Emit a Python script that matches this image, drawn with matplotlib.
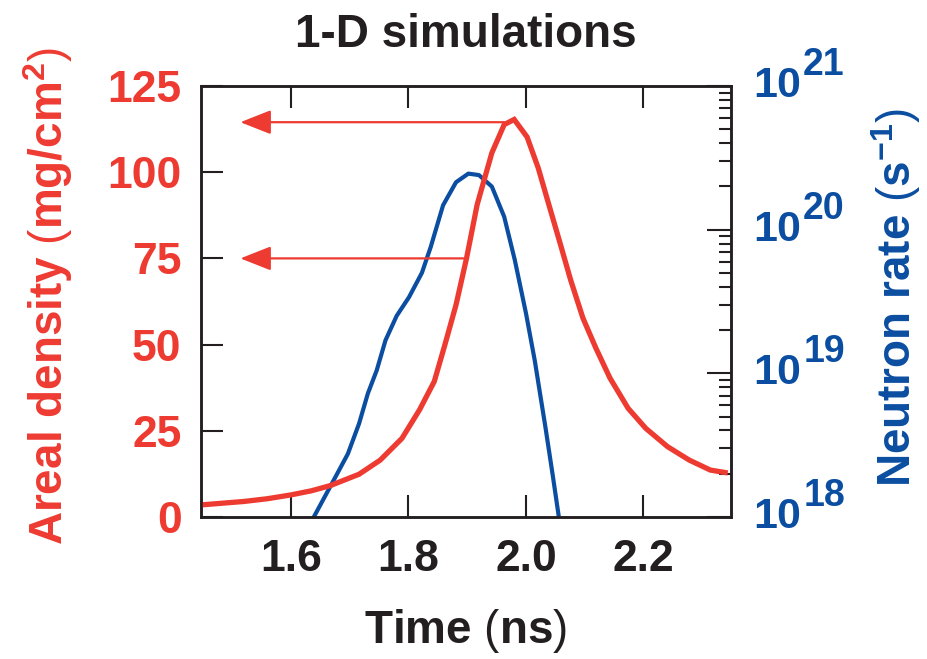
import matplotlib

matplotlib.use("Agg")

import matplotlib.pyplot as plt
from matplotlib.ticker import FixedLocator, LogLocator, NullFormatter

plt.rcParams["font.family"] = ["Liberation Sans", "DejaVu Sans"]
plt.rcParams["mathtext.fontset"] = "custom"
plt.rcParams["mathtext.rm"] = "Liberation Sans"
plt.rcParams["mathtext.bf"] = "Liberation Sans:bold"
plt.rcParams["mathtext.it"] = "Liberation Sans:italic"

RED = "#EE3B32"
BLUE = "#0B4EA1"
INK = "#231F20"

# areal density (mg/cm^2) vs time (ns)
rho_time = [1.447, 1.520, 1.560, 1.600, 1.635, 1.667, 1.716, 1.752, 1.789,
            1.819, 1.844, 1.862, 1.881, 1.899, 1.917, 1.942, 1.963, 1.980,
            2.002, 2.021, 2.039, 2.058, 2.076, 2.097, 2.119, 2.143, 2.174,
            2.204, 2.241, 2.278, 2.314, 2.339]
rho_areal = [3.5, 4.5, 5.3, 6.4, 7.6, 9.1, 12.4, 16.5, 22.8,
             31.1, 39.3, 49.9, 61.5, 75.1, 90.6, 105.6, 113.8, 115.3,
             110.2, 101.2, 90.6, 79.5, 68.8, 57.7, 49.0, 40.3, 31.5,
             25.7, 20.4, 16.5, 13.6, 12.9]

# neutron rate, log10(s^-1) vs time (ns)
rate_time = [1.639, 1.676, 1.697, 1.716, 1.731, 1.746, 1.761, 1.780, 1.801,
             1.823, 1.838, 1.859, 1.881, 1.902, 1.920, 1.942, 1.963, 1.981,
             2.000, 2.015, 2.033, 2.046, 2.056]
rate_log10 = [18.00, 18.28, 18.44, 18.65, 18.86, 19.02, 19.23, 19.40, 19.53,
              19.70, 19.88, 20.17, 20.33, 20.39, 20.38, 20.30, 20.09, 19.79,
              19.42, 19.09, 18.63, 18.28, 18.00]

# horizontal arrows: level (mg/cm^2), start time, end time
arrow_level = [114.5, 75.0]
arrow_start = [1.963, 1.894]
arrow_end = 1.514

x_ticks = [1.6, 1.8, 2.0, 2.2]
rho_ticks = [0, 25, 50, 75, 100, 125]
rate_decades = [18, 19, 20, 21]

fig = plt.figure(figsize=(9.28, 6.59), dpi=100)
ax = fig.add_axes([0.2166, 0.2155, 0.5711, 0.654])
ax2 = ax.twinx()
ax.set_zorder(ax2.get_zorder() + 1)
ax.patch.set_visible(False)

# neutron rate on the log axis
ax2.plot(rate_time, [10.0 ** v for v in rate_log10], color=BLUE, lw=3.0,
         solid_joinstyle="round")
ax2.set_yscale("log")
ax2.set_ylim(1e18, 1e21)
ax2.yaxis.set_major_locator(FixedLocator([10.0 ** d for d in rate_decades]))
ax2.yaxis.set_minor_locator(LogLocator(base=10, subs=range(2, 10), numticks=20))
ax2.yaxis.set_minor_formatter(NullFormatter())
ax2.tick_params(axis="y", which="major", direction="in", length=17, width=1.5,
                color=INK, labelright=False)
ax2.tick_params(axis="y", which="minor", direction="in", length=9, width=1.5,
                color=INK)

# areal density
ax.plot(rho_time, rho_areal, color=RED, lw=3.8, solid_joinstyle="miter")
for lvl, t0 in zip(arrow_level, arrow_start):
    ax.annotate("", xy=(arrow_end, lvl), xytext=(t0, lvl),
                arrowprops=dict(arrowstyle="-|>,head_length=1.9,head_width=0.75",
                                color=RED, lw=1.6, shrinkA=0, shrinkB=0,
                                mutation_scale=10))

ax.set_xlim(1.447, 2.349)
ax.set_ylim(0, 125)
ax.set_xticks(x_ticks)
ax.set_xticklabels([f"{t:.1f}" for t in x_ticks])
ax.set_yticks(rho_ticks)
ax.tick_params(axis="both", direction="in", length=16, width=1.5, color=INK,
               top=True, right=False)
ax.tick_params(axis="x", pad=16, labelsize=32, labelcolor=INK)
ax.tick_params(axis="y", pad=14, labelsize=32, labelcolor=RED)
for lab in ax.get_xticklabels() + ax.get_yticklabels():
    lab.set_fontweight("bold")

for a in (ax, ax2):
    for sp in a.spines.values():
        sp.set_linewidth(1.8)
        sp.set_color(INK)

# right-hand decade labels, 10 with a large exponent
for d in rate_decades:
    ax2.annotate("10", xy=(1, 10.0 ** d), xycoords=("axes fraction", "data"),
                 xytext=(16, 0), textcoords="offset points", ha="left",
                 va="center", fontsize=31, fontweight="bold", color=BLUE,
                 annotation_clip=False)
    ax2.annotate(str(d), xy=(1, 10.0 ** d), xycoords=("axes fraction", "data"),
                 xytext=(52, 15), textcoords="offset points", ha="left",
                 va="center", fontsize=27, fontweight="bold", color=BLUE,
                 annotation_clip=False)

ax.set_title("1-D simulations", fontsize=33, fontweight="bold", color=INK,
             pad=28)
fig.text(0.502, 0.024, r"$\mathbf{Time}$ ($\mathbf{ns}$)", ha="center",
         va="baseline", fontsize=33, color=INK)
fig.text(0.052, 0.551, r"$\mathbf{Areal\ density}$ ($\mathbf{mg/cm^2}$)",
         rotation=90, ha="center", va="center", fontsize=33, color=RED)
fig.text(0.966, 0.549, r"$\mathbf{Neutron\ rate}$ ($\mathbf{s^{-1}}$)",
         rotation=90, ha="center", va="center", fontsize=33, color=BLUE)

fig.savefig("out.png", dpi=100)
